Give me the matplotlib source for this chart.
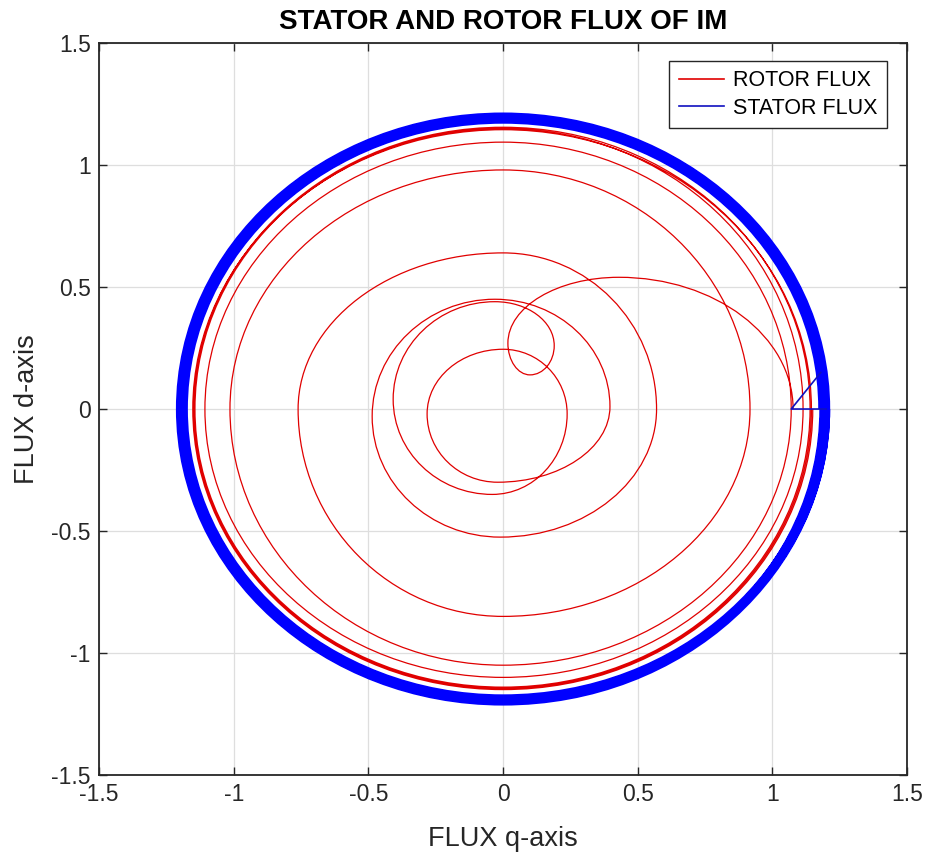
import numpy as np
import matplotlib
matplotlib.use("Agg")
import matplotlib.pyplot as plt
from matplotlib.path import Path
from matplotlib.patches import PathPatch
from matplotlib.lines import Line2D

plt.rcParams['font.family'] = ['Liberation Sans', 'DejaVu Sans']

# rotor flux: extreme points of each quarter turn (right, top, left, bottom, ...)
rotor_q = [1.077, 0.43, 0.018, 0.10, 0.19, -0.03, -0.408, -0.04, 0.238,
           0.0, -0.282, -0.02, 0.397, -0.03, -0.486, -0.01, 0.57,
           0.0, -0.761, 0.0, 0.917, 0.0, -1.014, 0.0, 1.07,
           0.0, -1.107, 0.0, 1.114, 0.0, -1.144, 0.0, 1.14,
           0.0, -1.148, 0.0, 1.145, 0.0, -1.152, 0.0, 1.15]
rotor_d = [0.0, 0.54, 0.27, 0.14, 0.26, 0.44, 0.04, -0.35, -0.02,
           0.245, -0.02, -0.30, 0.01, 0.45, -0.03, -0.525, 0.0,
           0.64, 0.0, -0.85, 0.0, 0.98, 0.0, -1.05, 0.0,
           1.094, 0.0, -1.10, 0.0, 1.15, 0.0, -1.14, 0.0,
           1.155, 0.0, -1.145, 0.0, 1.145, 0.0, -1.15, 0.0]

# stator flux: start transient and radii of the turns in the outer band
stator_start_q = [1.20, 1.07, 1.18]
stator_start_d = [0.0, 0.0, 0.15]
stator_radius = [1.178, 1.19, 1.203, 1.185, 1.198, 1.182, 1.195, 1.207]

x_ticks = [-1.5, -1, -0.5, 0, 0.5, 1, 1.5]
y_ticks = [-1.5, -1, -0.5, 0, 0.5, 1, 1.5]
tick_labels = ['-1.5', '-1', '-0.5', '0', '0.5', '1', '1.5']

K = 0.5523


def spiral_path(qs, ds):
    # quarter-ellipse bezier between consecutive extreme points
    verts = [(qs[0], ds[0])]
    codes = [Path.MOVETO]
    for i in range(len(qs) - 1):
        p = np.array([qs[i], ds[i]])
        q = np.array([qs[i + 1], ds[i + 1]])
        if i % 2 == 0:   # right / left extreme -> vertical tangent
            corner = np.array([p[0], q[1]])
        else:            # top / bottom extreme -> horizontal tangent
            corner = np.array([q[0], p[1]])
        c1 = p + K * (corner - p)
        c2 = q + K * (corner - q)
        verts += [tuple(c1), tuple(c2), tuple(q)]
        codes += [Path.CURVE4] * 3
    return Path(verts, codes)


fig = plt.figure(figsize=(9.26, 8.55), dpi=100)
ax = fig.add_axes([0.107, 0.0936, 0.8725, 0.856])

ax.grid(True, color='#dedede', linewidth=0.9)
ax.set_axisbelow(True)

# stator flux ring
sq, sd = [], []
for r in stator_radius:
    sq += [r, 0.0, -r, 0.0]
    sd += [0.0, r, 0.0, -r]
sq.append(stator_radius[-1])
sd.append(0.0)
ax.add_patch(PathPatch(spiral_path(sq, sd), facecolor='none',
                       edgecolor='#0000ff', linewidth=3.0))
ax.plot(stator_start_q, stator_start_d, color='#1010c0', linewidth=1.2)

# rotor flux spiral
ax.add_patch(PathPatch(spiral_path(rotor_q, rotor_d), facecolor='none',
                       edgecolor='#e00000', linewidth=0.9))

ax.set_xlim(-1.5, 1.5)
ax.set_ylim(-1.5, 1.5)
ax.set_xticks(x_ticks)
ax.set_yticks(y_ticks)
ax.set_xticklabels(tick_labels)
ax.set_yticklabels(tick_labels)
ax.tick_params(direction='in', top=True, right=True, length=6, width=1,
               labelsize=16.5, colors='#262626', pad=6)
for s in ax.spines.values():
    s.set_color('#262626')
    s.set_linewidth(1.3)

ax.set_title('STATOR AND ROTOR FLUX OF IM', fontsize=20, fontweight='bold',
             pad=10)
ax.set_xlabel('FLUX q-axis', fontsize=19.5, color='#262626', labelpad=14)
ax.set_ylabel('FLUX d-axis', fontsize=19.5, color='#262626', labelpad=8)

handles = [Line2D([], [], color='#e00000', linewidth=1.2),
           Line2D([], [], color='#1010c0', linewidth=1.2)]
leg = ax.legend(handles, ['ROTOR FLUX', 'STATOR FLUX'], loc='upper right',
                bbox_to_anchor=(0.975, 0.976), fontsize=15.5, frameon=True,
                fancybox=False, framealpha=1, edgecolor='#262626',
                handlelength=2.1, borderpad=0.45, labelspacing=0.3,
                handletextpad=0.4, borderaxespad=0)
leg.get_frame().set_linewidth(1.0)

fig.savefig('out.png', dpi=100)
